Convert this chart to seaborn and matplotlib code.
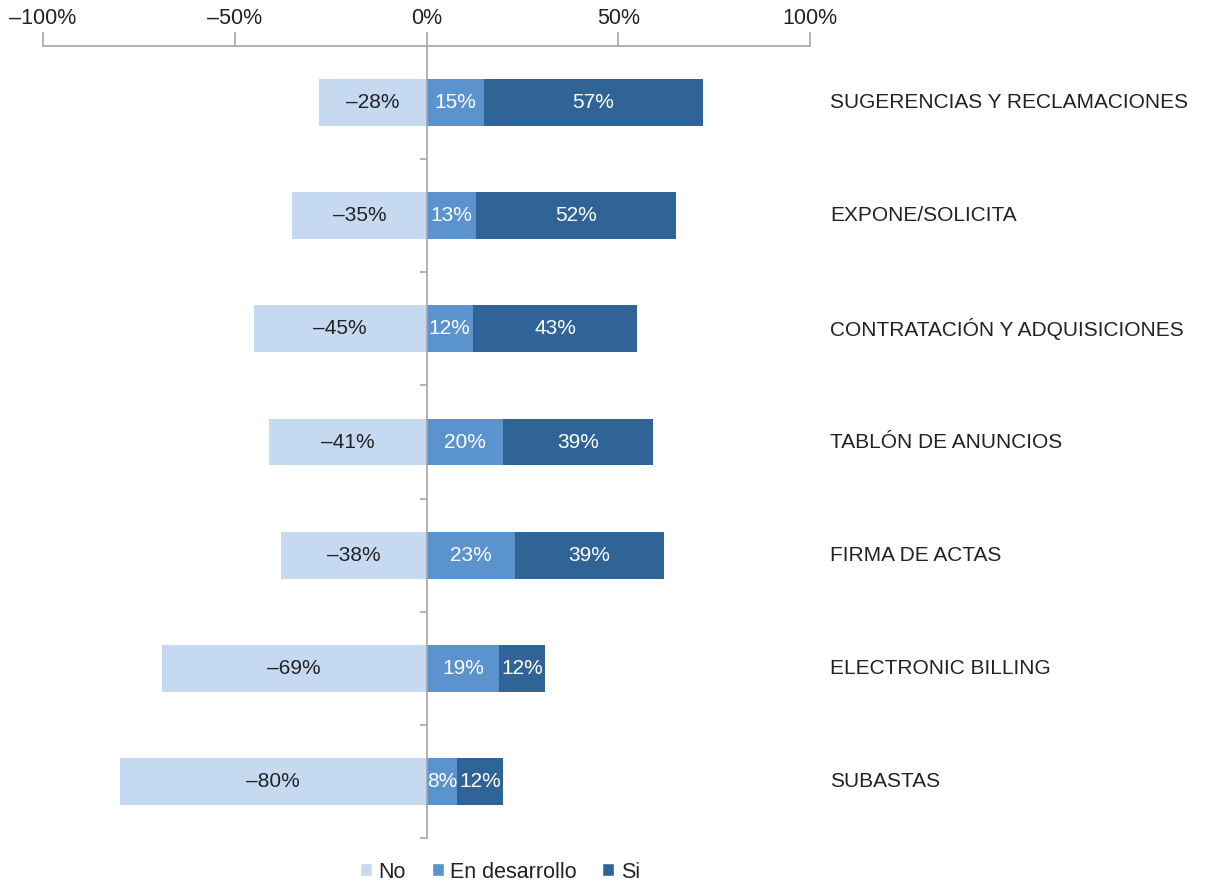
import matplotlib
matplotlib.use("Agg")
import matplotlib.pyplot as plt
import seaborn as sns
import pandas as pd
from matplotlib.patches import Patch

categories = ["SUGERENCIAS Y RECLAMACIONES", "EXPONE/SOLICITA", "CONTRATACIÓN Y ADQUISICIONES",
              "TABLÓN DE ANUNCIOS", "FIRMA DE ACTAS", "ELECTRONIC BILLING", "SUBASTAS"]
no_vals = [28, 35, 45, 41, 38, 69, 80]
dev_vals = [15, 13, 12, 20, 23, 19, 8]
si_vals = [57, 52, 43, 39, 39, 12, 12]
xticks = [-100, -50, 0, 50, 100]

c_no, c_dev, c_si = "#c5daf0", "#5a93cd", "#316496"
grey = "#a6a6a6"

sns.set_theme(style="white")
plt.rcParams['font.family'] = ['Liberation Sans', 'DejaVu Sans']

df = pd.DataFrame({"cat": categories, "no": [-v for v in no_vals], "dev": dev_vals,
                   "total": [d + s for d, s in zip(dev_vals, si_vals)]})

fig = plt.figure(figsize=(12.24, 8.86), dpi=100)
ax = fig.add_axes([43/1224, 1-838/886, (810-43)/1224, (838-46)/886])

bw = 0.415
kw = dict(orient="h", width=bw, ax=ax, saturation=1, linewidth=0, edgecolor="none")
sns.barplot(data=df, x="total", y="cat", color=c_si, **kw)
sns.barplot(data=df, x="dev", y="cat", color=c_dev, **kw)
sns.barplot(data=df, x="no", y="cat", color=c_no, **kw)

ax.set_xlim(-100, 100)
ax.set_ylim(6.5, -0.5)
ax.set_xlabel("")
ax.set_ylabel("")

# bar labels
for i in range(len(categories)):
    ax.text(-no_vals[i]/2, i, f"\u2013{no_vals[i]}%", ha="center", va="center",
            fontsize=15, color="#222222")
    ax.text(dev_vals[i]/2, i, f"{dev_vals[i]}%", ha="center", va="center",
            fontsize=15, color="white")
    ax.text(dev_vals[i] + si_vals[i]/2, i, f"{si_vals[i]}%", ha="center", va="center",
            fontsize=15, color="white")
    ax.text(105.2, i, categories[i], ha="left", va="center", fontsize=15,
            color="#222222", clip_on=False)

# axes styling
ax.xaxis.tick_top()
ax.set_xticks(xticks)
ax.set_xticklabels([("\u2013" if t < 0 else "") + f"{abs(t)}%" for t in xticks])
ax.tick_params(axis="x", direction="out", length=10, width=1.2, color=grey,
               labelsize=15.5, labelcolor="#222222", pad=2, top=True, bottom=False)
ax.set_yticks([i + 0.5 for i in range(len(categories))])
ax.set_yticklabels([])
ax.tick_params(axis="y", direction="out", length=5, width=1.2, color=grey, left=True)

for s in ["right", "bottom"]:
    ax.spines[s].set_visible(False)
ax.spines["top"].set_color(grey)
ax.spines["top"].set_linewidth(1.2)
ax.spines["left"].set_position(("data", 0))
ax.spines["left"].set_color(grey)
ax.spines["left"].set_linewidth(1.2)
ax.spines["left"].set_zorder(5)

handles = [Patch(facecolor=c_no, label="No"), Patch(facecolor=c_dev, label="En desarrollo"),
           Patch(facecolor=c_si, label="Si")]
fig.legend(handles=handles, loc="center", bbox_to_anchor=(500/1224, 1-872/886), ncol=3,
           frameon=False, fontsize=15.5, handlelength=0.55, handleheight=0.55,
           handletextpad=0.3, columnspacing=1.2, labelcolor="#222222")

fig.savefig("out.png", dpi=100)
